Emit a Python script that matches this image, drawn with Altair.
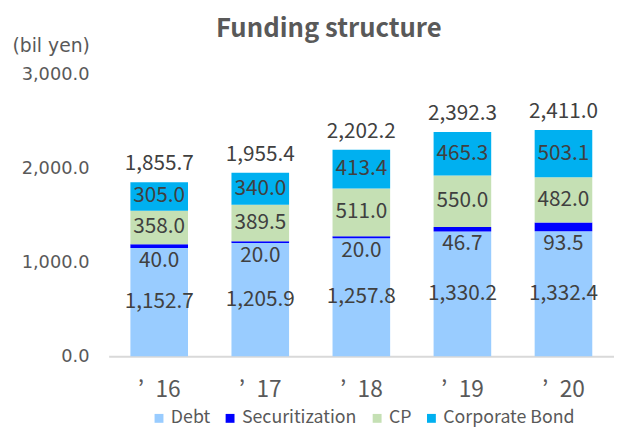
import altair as alt
import pandas as pd

years = ["’\u200216", "’\u200217", "’\u200218", "’\u200219", "’\u200220"]
categories = ["Debt", "Securitization", "CP", "Corporate Bond"]
debt = [1152.7, 1205.9, 1257.8, 1330.2, 1332.4]
securitization = [40.0, 20.0, 20.0, 46.7, 93.5]
cp = [358.0, 389.5, 511.0, 550.0, 482.0]
corporate_bond = [305.0, 340.0, 413.4, 465.3, 503.1]
totals = [1855.7, 1955.4, 2202.2, 2392.3, 2411.0]
colors = ["#99CCFF", "#0000FF", "#C5E0B4", "#00B0F0"]
y_ticks = [0, 1000, 2000, 3000]

FONT = "Noto Sans CJK JP"
AXFONT = "DejaVu Sans"
TXT = "#404040"
AX = "#595959"

series = [debt, securitization, cp, corporate_bond]
rows = []
for ci, (cat, vals) in enumerate(zip(categories, series)):
    for yi, yr in enumerate(years):
        rows.append({"year": yr, "category": cat, "value": vals[yi], "order": ci})
df = pd.DataFrame(rows)
tot_df = pd.DataFrame({"year": years, "total": totals})

xenc = alt.X("year:N", sort=years,
             scale=alt.Scale(paddingInner=0.43, paddingOuter=0.215),
             axis=alt.Axis(title=None, labelAngle=0, labelFont=FONT, labelFontSize=23,
                           labelColor=AX, labelPadding=23, ticks=False,
                           domainColor="#D9D9D9", domainWidth=2))

yscale = alt.Scale(domain=[0, 3000], nice=False)

base = alt.Chart(df).transform_stack(
    stack="value", groupby=["year"], sort=[alt.SortField("order")], as_=["v0", "v1"]
)

bars = base.mark_bar().encode(
    x=xenc,
    y=alt.Y("v0:Q", scale=yscale,
            axis=alt.Axis(values=y_ticks, format=",.1f", grid=False, domain=False, ticks=False,
                          labelFont=AXFONT, labelFontSize=18, labelColor=AX, labelPadding=20,
                          title="(bil yen)", titleAngle=0, titleX=-98, titleY=-30,
                          titleAlign="left", titleBaseline="middle", titleFont=AXFONT,
                          titleFontSize=19, titleFontWeight="normal", titleColor=AX)),
    y2="v1:Q",
    color=alt.Color("category:N", scale=alt.Scale(domain=categories, range=colors),
                    legend=alt.Legend(title=None, orient="none", legendX=42, legendY=339,
                                      direction="horizontal", columns=4, symbolType="square",
                                      symbolSize=81, symbolStrokeWidth=0, labelFont=FONT,
                                      labelFontSize=18, labelColor=AX, columnPadding=11,
                                      labelOffset=3)),
    order=alt.Order("order:Q"),
)

mid_labels = base.transform_filter(alt.datum.category != "Securitization").transform_calculate(
    mid="(datum.v0 + datum.v1) / 2"
).mark_text(font=FONT, fontSize=21, color=TXT, baseline="middle").encode(
    x=alt.X("year:N", sort=years),
    y=alt.Y("mid:Q", scale=yscale),
    text=alt.Text("value:Q", format=",.1f"),
)

sec_labels = base.transform_filter(alt.datum.category == "Securitization").mark_text(
    font=FONT, fontSize=21, color=TXT, baseline="middle", dy=13
).encode(
    x=alt.X("year:N", sort=years),
    y=alt.Y("v0:Q", scale=yscale),
    text=alt.Text("value:Q", format=",.1f"),
)

tot_labels = alt.Chart(tot_df).mark_text(
    font=FONT, fontSize=21, color=TXT, baseline="alphabetic", dy=-12
).encode(
    x=alt.X("year:N", sort=years),
    y=alt.Y("total:Q", scale=yscale),
    text=alt.Text("total:Q", format=",.1f"),
)

chart = alt.layer(bars, mid_labels, sec_labels, tot_labels).properties(
    width=512, height=285,
    autosize=alt.AutoSizeParams(type="none"),
    padding={"left": 102, "top": 65, "right": 0, "bottom": 71},
    title=alt.TitleParams("Funding structure", font=FONT, fontSize=26, fontWeight="bold",
                          color=AX, anchor="middle", dx=-33, dy=10),
).configure_view(stroke=None)

chart.save("out.html", embed_options={"renderer": "svg", "actions": False})
